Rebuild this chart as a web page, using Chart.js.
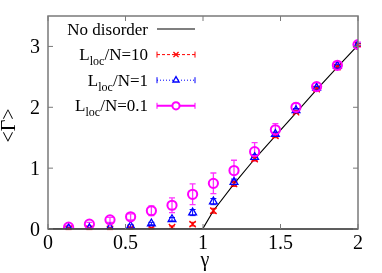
<!DOCTYPE html>
<html>
<head>
<meta charset="utf-8">
<script src="https://cdn.jsdelivr.net/npm/chart.js@4.4.1/dist/chart.umd.min.js"></script>
<style>
  html, body { margin: 0; padding: 0; background: #fff; }
  #fontWarm { position: absolute; left: -1000px; top: 0; font-family: 'Liberation Serif'; font-size: 20px; }
</style>
</head>
<body>
<span id="fontWarm">0.5 No disorder L loc γ Γ</span>
<canvas id="gammaChart" width="382" height="273"></canvas>
<script>
// values
const gammaValues = [0.133, 0.267, 0.4, 0.533, 0.667, 0.8, 0.933, 1.067, 1.2, 1.333, 1.467, 1.6, 1.733, 1.867, 2.0];

const noDisorderX = [0, 0.95, 1.0, 1.067, 1.2, 1.333, 1.467, 1.6, 1.733, 1.867, 2.0];
const noDisorderY = [0, 0, 0.01, 0.3, 0.74, 1.15, 1.53, 1.91, 2.29, 2.66, 3.02];

const loc10 = [0.0, 0.0, 0.0, 0.01, 0.01, 0.03, 0.08, 0.3, 0.74, 1.15, 1.53, 1.92, 2.3, 2.66, 3.02];
const loc10Err = [0.01, 0.01, 0.01, 0.01, 0.01, 0.02, 0.03, 0.04, 0.04, 0.03, 0.03, 0.02, 0.02, 0.02, 0.02];

const loc1 = [0.01, 0.01, 0.02, 0.05, 0.09, 0.16, 0.27, 0.45, 0.77, 1.18, 1.56, 1.95, 2.32, 2.68, 3.03];
const loc1Err = [0.01, 0.01, 0.01, 0.02, 0.02, 0.03, 0.05, 0.05, 0.05, 0.04, 0.03, 0.03, 0.02, 0.02, 0.02];

const loc01 = [0.03, 0.08, 0.15, 0.2, 0.3, 0.39, 0.57, 0.75, 0.96, 1.27, 1.63, 2.0, 2.34, 2.69, 3.03];
const loc01Err = [0.03, 0.03, 0.04, 0.05, 0.08, 0.12, 0.17, 0.17, 0.17, 0.15, 0.1, 0.07, 0.06, 0.05, 0.04];

const xTicks = [0, 0.5, 1, 1.5, 2];
const xTickLabels = ["0", "0.5", "1", "1.5", "2"];
const yTicks = [0, 1, 2, 3];
const yTickLabels = ["0", "1", "2", "3"];

const SERIF = "'Liberation Serif', 'Times New Roman', serif";
Chart.defaults.font.family = SERIF;

const toPoints = (xs, ys) => xs.map((x, i) => ({ x: x, y: ys[i] }));

// error bars, inward ticks, tick labels, frame, axis titles and legend
const decorPlugin = {
  id: "decor",
  beforeDatasetsDraw(chart) {
    const ctx = chart.ctx;
    const ys = chart.scales.y;
    chart.data.datasets.forEach((ds, i) => {
      if (!ds.errors) return;
      const meta = chart.getDatasetMeta(i);
      ctx.save();
      ctx.strokeStyle = ds.errColor;
      ctx.lineWidth = ds.errWidth;
      meta.data.forEach((el, j) => {
        const v = ds.data[j].y;
        const e = ds.errors[j];
        const top = ys.getPixelForValue(v + e);
        const bot = ys.getPixelForValue(v - e);
        ctx.beginPath();
        ctx.moveTo(el.x, top); ctx.lineTo(el.x, bot);
        ctx.moveTo(el.x - 3, top); ctx.lineTo(el.x + 3, top);
        ctx.moveTo(el.x - 3, bot); ctx.lineTo(el.x + 3, bot);
        ctx.stroke();
      });
      ctx.restore();
    });
  },
  afterDraw(chart) {
    const ctx = chart.ctx;
    const a = chart.chartArea;
    const xs = chart.scales.x, ys = chart.scales.y;
    ctx.save();
    // frame
    ctx.strokeStyle = "#7a7a7a";
    ctx.lineWidth = 1.5;
    ctx.strokeRect(a.left, a.top, a.right - a.left, a.bottom - a.top);
    ctx.strokeStyle = "#222";
    ctx.lineWidth = 1.2;
    ctx.beginPath();
    ctx.moveTo(a.left, ys.getPixelForValue(0));
    ctx.lineTo(a.right, ys.getPixelForValue(0));
    ctx.stroke();
    // inward ticks
    ctx.strokeStyle = "#7a7a7a";
    ctx.lineWidth = 1;
    ctx.beginPath();
    xTicks.forEach(t => {
      const px = xs.getPixelForValue(t);
      ctx.moveTo(px, a.bottom); ctx.lineTo(px, a.bottom - 5);
      ctx.moveTo(px, a.top); ctx.lineTo(px, a.top + 5);
    });
    yTicks.forEach(t => {
      const py = ys.getPixelForValue(t);
      ctx.moveTo(a.left, py); ctx.lineTo(a.left + 5, py);
      ctx.moveTo(a.right, py); ctx.lineTo(a.right - 5, py);
    });
    ctx.stroke();

    // tick labels
    ctx.fillStyle = "#000";
    ctx.font = "20px " + SERIF;
    ctx.textBaseline = "alphabetic";
    ctx.textAlign = "center";
    xTicks.forEach((t, i) => {
      ctx.fillText(xTickLabels[i], xs.getPixelForValue(t), a.bottom + 20);
    });
    ctx.textAlign = "right";
    yTicks.forEach((t, i) => {
      ctx.fillText(yTickLabels[i], a.left - 8, ys.getPixelForValue(t) + 7);
    });

    // axis titles
    ctx.textAlign = "center";
    ctx.fillText("\u03b3", (a.left + a.right) / 2 + 2, 266);
    ctx.save();
    ctx.translate(15, (a.top + a.bottom) / 2 + 3);
    ctx.rotate(-Math.PI / 2);
    ctx.fillText("<\u0393>", 0, 0);
    ctx.restore();

    // legend
    const textRight = 148, lineL = 157, lineR = 195, mid = 176;
    chart.data.datasets.forEach(ds => {
      const yc = 29 + ds.legendRow * 25.6;
      const base = yc + 5.5;
      ctx.fillStyle = "#000";
      ctx.textAlign = "left";
      ctx.textBaseline = "alphabetic";
      if (ds.sub) {
        ctx.font = "17px " + SERIF;
        const wL = ctx.measureText("L").width;
        const wRest = ctx.measureText(ds.rest).width;
        ctx.font = "12px " + SERIF;
        const wSub = ctx.measureText(ds.sub).width;
        const x = textRight - wL - wSub - wRest;
        ctx.font = "17px " + SERIF;
        ctx.fillText("L", x, base);
        ctx.font = "12px " + SERIF;
        ctx.fillText(ds.sub, x + wL, base + 5);
        ctx.font = "17px " + SERIF;
        ctx.fillText(ds.rest, x + wL + wSub, base);
      } else {
        ctx.font = "17px " + SERIF;
        ctx.textAlign = "right";
        ctx.fillText(ds.label, textRight, base);
      }
      ctx.save();
      ctx.strokeStyle = ds.legendColor;
      ctx.lineWidth = ds.legendWidth;
      ctx.setLineDash(ds.legendDash);
      ctx.beginPath();
      ctx.moveTo(lineL, yc); ctx.lineTo(lineR, yc);
      ctx.stroke();
      ctx.setLineDash([]);
      if (ds.errors) {
        ctx.lineWidth = 1;
        ctx.beginPath();
        ctx.moveTo(lineL, yc - 3); ctx.lineTo(lineL, yc + 3);
        ctx.moveTo(lineR, yc - 3); ctx.lineTo(lineR, yc + 3);
        ctx.stroke();
        ctx.fillStyle = "#fff";
        ctx.strokeStyle = ds.pointBorderColor;
        ctx.lineWidth = ds.pointBorderWidth;
        Chart.helpers.drawPoint(ctx, {
          pointStyle: ds.pointStyle,
          radius: 3.6,
          borderWidth: ds.pointBorderWidth,
          rotation: 0
        }, mid, yc);
      }
      ctx.restore();
    });
    ctx.restore();
  }
};

function buildChart() {
  new Chart(document.getElementById("gammaChart"), {
    type: "scatter",
    data: {
      datasets: [
        {
          label: "L_loc/N=0.1", sub: "loc", rest: "/N=0.1", legendRow: 3,
          data: toPoints(gammaValues, loc01),
          errors: loc01Err, errColor: "#ff33ff", errWidth: 1.3,
          pointStyle: "circle", pointRadius: 4.6, pointBorderWidth: 2,
          pointBorderColor: "#ff00ff", pointBackgroundColor: "rgba(0,0,0,0)",
          legendColor: "#ff00ff", legendWidth: 2, legendDash: [],
          order: 0
        },
        {
          label: "L_loc/N=1", sub: "loc", rest: "/N=1", legendRow: 2,
          data: toPoints(gammaValues, loc1),
          errors: loc1Err, errColor: "#0000ff", errWidth: 1,
          pointStyle: "triangle", pointRadius: 4.5, pointBorderWidth: 1.3,
          pointBorderColor: "#0000ff", pointBackgroundColor: "rgba(0,0,0,0)",
          legendColor: "#0000ff", legendWidth: 1, legendDash: [1, 2],
          order: 1
        },
        {
          label: "L_loc/N=10", sub: "loc", rest: "/N=10", legendRow: 1,
          data: toPoints(gammaValues, loc10),
          errors: loc10Err, errColor: "#ff0000", errWidth: 1,
          pointStyle: "crossRot", pointRadius: 4.5, pointBorderWidth: 1.3,
          pointBorderColor: "#ff0000", pointBackgroundColor: "rgba(0,0,0,0)",
          legendColor: "#ff0000", legendWidth: 1, legendDash: [3, 2],
          order: 2
        },
        {
          label: "No disorder", legendRow: 0,
          data: toPoints(noDisorderX, noDisorderY),
          showLine: true, borderColor: "#000", borderWidth: 1.1,
          pointRadius: 0, tension: 0,
          legendColor: "#000", legendWidth: 1.1, legendDash: [],
          order: 3
        }
      ]
    },
    options: {
      responsive: false,
      animation: false,
      layout: { padding: { top: 16, right: 24, left: 0, bottom: 0 } },
      plugins: { legend: { display: false }, tooltip: { enabled: false } },
      scales: {
        x: {
          type: "linear", min: 0, max: 2,
          grid: { display: false, drawTicks: false },
          border: { display: false },
          ticks: { display: false, stepSize: 0.5 },
          afterFit: s => { s.height = 44; }
        },
        y: {
          min: 0, max: 3.5,
          grid: { display: false, drawTicks: false },
          border: { display: false },
          ticks: { display: false, stepSize: 1, includeBounds: false },
          afterFit: s => { s.width = 48; }
        }
      }
    },
    plugins: [decorPlugin]
  });
}

if (document.fonts && document.fonts.load) {
  document.fonts.load("20px 'Liberation Serif'").then(buildChart, buildChart);
} else {
  buildChart();
}
</script>
</body>
</html>
